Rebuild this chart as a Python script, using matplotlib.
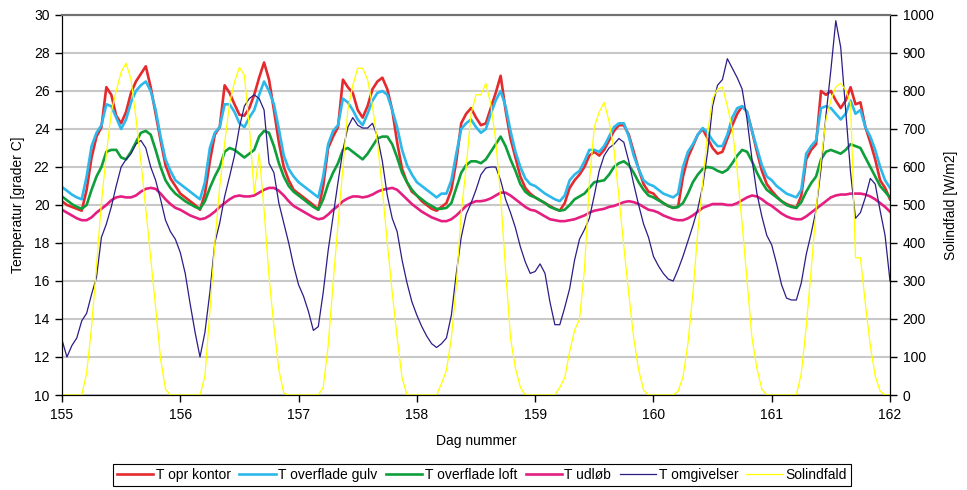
import matplotlib
matplotlib.use("Agg")
import matplotlib.pyplot as plt
import numpy as np

plt.rcParams['font.family'] = ['Liberation Sans', 'DejaVu Sans']
plt.rcParams['font.size'] = 10

# hourly values, one row per day (155 ... 161), last value = day 162 00:00
t_opr_kontor = [
    20.2, 20.0, 19.9, 19.8, 19.7, 20.8, 22.5, 23.6, 24.1, 26.2, 25.8, 24.7, 24.3, 24.9, 25.9, 26.5, 26.9, 27.3, 26.2, 24.8, 23.4, 22.1, 21.4, 21.0,
    20.6, 20.4, 20.2, 20.0, 19.75, 20.6, 22.3, 23.7, 24.1, 26.3, 25.9, 25.3, 24.75, 24.7, 25.1, 25.8, 26.7, 27.5, 26.6, 25.0, 23.3, 22.0, 21.3, 20.8,
    20.6, 20.4, 20.2, 20.0, 19.75, 21.0, 23.0, 23.6, 24.1, 26.6, 26.2, 25.9, 25.0, 24.6, 25.2, 26.1, 26.5, 26.7, 26.1, 25.0, 23.3, 21.9, 21.2, 20.7,
    20.5, 20.2, 20.0, 19.8, 19.7, 19.9, 20.1, 20.8, 22.3, 24.3, 24.8, 25.1, 24.6, 24.2, 24.3, 25.1, 25.9, 26.8, 25.0, 23.5, 22.5, 21.5, 20.9, 20.6,
    20.4, 20.25, 20.1, 19.95, 19.8, 19.7, 20.1, 20.9, 21.3, 21.6, 22.0, 22.6, 22.8, 22.6, 22.9, 23.4, 23.9, 24.2, 24.2, 23.7, 22.8, 21.9, 21.1, 20.7,
    20.6, 20.3, 20.1, 19.95, 19.85, 19.9, 21.5, 22.5, 23.1, 23.7, 24.0, 23.5, 23.0, 22.7, 22.8, 23.5, 24.2, 24.8, 25.2, 24.9, 23.9, 22.8, 21.8, 21.1,
    20.75, 20.45, 20.2, 20.05, 19.95, 19.85, 20.5, 22.4, 22.9, 23.2, 26.0, 25.8, 26.0, 25.5, 25.1, 25.5, 26.2, 25.3, 25.4, 24.1, 23.3, 22.4, 21.3, 20.9,
    20.3,
]
t_overflade_gulv = [
    20.95, 20.75, 20.55, 20.4, 20.3, 21.5, 23.1, 23.8, 24.2, 25.3, 25.2, 24.6, 24.0, 24.5, 25.4, 26.0, 26.3, 26.5, 26.0, 25.0, 23.6, 22.4, 21.8, 21.3,
    21.1, 20.9, 20.7, 20.5, 20.3, 21.2, 23.0, 23.8, 24.1, 25.3, 25.3, 24.9, 24.3, 24.1, 24.6, 25.0, 25.8, 26.5, 26.0, 25.3, 24.0, 22.6, 21.9, 21.5,
    21.2, 21.0, 20.8, 20.6, 20.4, 21.5, 23.2, 23.9, 24.2, 25.6, 25.4, 25.0, 24.5, 24.2, 24.8, 25.5, 25.9, 26.0, 25.8, 25.0, 24.1, 22.9, 22.1, 21.6,
    21.2, 21.0, 20.8, 20.6, 20.4, 20.6, 20.6, 21.3, 22.7, 24.0, 24.3, 24.5, 24.1, 23.8, 24.0, 24.8, 25.5, 26.0, 25.2, 23.9, 22.8, 22.0, 21.4, 21.1,
    21.0, 20.8, 20.6, 20.45, 20.3, 20.2, 20.5, 21.3, 21.6, 21.8, 22.3, 22.9, 22.9, 22.8, 23.1, 23.6, 24.1, 24.3, 24.3, 23.6, 22.6, 21.9, 21.3, 21.1,
    21.0, 20.8, 20.6, 20.5, 20.4, 20.6, 22.0, 22.8, 23.2, 23.7, 24.05, 23.8, 23.4, 23.1, 23.1, 23.7, 24.6, 25.1, 25.2, 24.9, 23.9, 23.0, 22.1, 21.5,
    21.3, 21.0, 20.8, 20.6, 20.5, 20.4, 20.8, 22.7, 23.1, 23.4, 25.1, 25.2, 25.1, 24.8, 24.5, 24.8, 25.5, 24.8, 25.0, 24.1, 23.6, 22.9, 22.0, 21.3,
    20.9,
]
t_overflade_loft = [
    20.45, 20.25, 20.05, 19.9, 19.8, 20.0, 20.8, 21.5, 22.0, 22.8, 22.9, 22.9, 22.5, 22.4, 22.8, 23.3, 23.8, 23.9, 23.7, 22.9, 22.0, 21.3, 20.9, 20.6,
    20.4, 20.2, 20.05, 19.9, 19.8, 20.2, 20.9, 21.5, 22.0, 22.8, 23.0, 22.9, 22.7, 22.5, 22.7, 22.9, 23.6, 23.9, 23.8, 23.1, 22.2, 21.5, 21.0, 20.7,
    20.5, 20.3, 20.1, 19.9, 19.75, 20.3, 21.1, 21.7, 22.2, 22.9, 23.0, 22.8, 22.6, 22.4, 22.7, 23.1, 23.5, 23.6, 23.6, 23.2, 22.5, 21.7, 21.2, 20.8,
    20.5, 20.3, 20.1, 19.95, 19.8, 19.8, 19.85, 20.1, 20.9, 21.7, 22.1, 22.3, 22.3, 22.2, 22.4, 22.8, 23.2, 23.6, 23.1, 22.4, 21.8, 21.1, 20.7, 20.5,
    20.4, 20.25, 20.1, 19.9, 19.8, 19.7, 19.75, 20.0, 20.3, 20.45, 20.6, 20.9, 21.2, 21.25, 21.3, 21.6, 22.0, 22.2, 22.3, 22.1, 21.7, 21.2, 20.8, 20.5,
    20.4, 20.25, 20.1, 19.95, 19.85, 19.9, 20.1, 20.6, 21.2, 21.6, 21.9, 22.0, 21.95, 21.8, 21.7, 21.85, 22.2, 22.6, 22.9, 22.8, 22.3, 21.7, 21.2, 20.8,
    20.6, 20.4, 20.2, 20.0, 19.9, 19.85, 20.15, 20.7, 21.15, 21.5, 22.4, 22.8, 22.9, 22.8, 22.7, 22.9, 23.2, 23.1, 23.0, 22.5, 22.0, 21.5, 21.0, 20.7,
    20.4,
]
t_udloeb = [
    19.75, 19.6, 19.45, 19.3, 19.2, 19.2, 19.35, 19.6, 19.8, 20.0, 20.25, 20.4, 20.45, 20.4, 20.4, 20.5, 20.7, 20.85, 20.9, 20.85, 20.6, 20.3, 20.05, 19.85,
    19.75, 19.6, 19.45, 19.35, 19.25, 19.3, 19.45, 19.65, 19.9, 20.1, 20.3, 20.45, 20.5, 20.45, 20.45, 20.5, 20.65, 20.8, 20.9, 20.9, 20.75, 20.5, 20.2, 19.95,
    19.8, 19.65, 19.5, 19.35, 19.25, 19.3, 19.5, 19.75, 19.95, 20.2, 20.35, 20.45, 20.45, 20.4, 20.45, 20.55, 20.7, 20.8, 20.85, 20.9, 20.8, 20.55, 20.3, 20.05,
    19.85, 19.65, 19.5, 19.35, 19.25, 19.15, 19.15, 19.25, 19.45, 19.7, 19.95, 20.1, 20.2, 20.2, 20.25, 20.35, 20.5, 20.65, 20.65, 20.5, 20.3, 20.1, 19.9, 19.75,
    19.7, 19.55, 19.4, 19.25, 19.2, 19.15, 19.15, 19.2, 19.25, 19.35, 19.45, 19.6, 19.7, 19.75, 19.8, 19.9, 19.95, 20.05, 20.15, 20.2, 20.15, 20.05, 19.9, 19.75,
    19.7, 19.6, 19.45, 19.35, 19.25, 19.2, 19.2, 19.3, 19.45, 19.65, 19.85, 19.95, 20.05, 20.05, 20.05, 20.0, 20.0, 20.1, 20.25, 20.4, 20.5, 20.45, 20.3, 20.1,
    19.95, 19.75, 19.55, 19.4, 19.3, 19.25, 19.25, 19.4, 19.6, 19.8, 20.0, 20.2, 20.4, 20.5, 20.55, 20.55, 20.6, 20.6, 20.6, 20.55, 20.45, 20.3, 20.1, 19.9,
    19.65,
]
t_omgivelser = [
    12.9, 12.0, 12.6, 13.0, 13.9, 14.3, 15.3, 16.2, 18.3, 19.0, 19.9, 21.0, 22.0, 22.4, 22.7, 23.2, 23.4, 23.0, 22.0, 21.3, 20.3, 19.2, 18.6, 18.2,
    17.5, 16.4, 14.8, 13.3, 12.0, 13.3, 15.4, 18.0, 19.05, 20.45, 21.5, 22.6, 24.1, 25.2, 25.6, 25.8, 25.6, 25.0, 22.2, 21.7, 20.1, 19.05, 18.0, 16.8,
    15.8, 15.2, 14.4, 13.4, 13.6, 15.4, 17.6, 19.4, 21.2, 22.9, 24.1, 24.6, 24.2, 24.05, 24.05, 24.3, 23.6, 22.3, 20.5, 19.3, 18.6, 17.1, 15.9, 14.9,
    14.2, 13.6, 13.1, 12.7, 12.5, 12.7, 13.0, 14.2, 16.4, 18.3, 19.5, 20.1, 20.8, 21.6, 21.95, 22.0, 22.0, 21.3, 20.3, 19.6, 18.8, 17.8, 17.0, 16.4,
    16.5, 16.9, 16.4, 14.9, 13.7, 13.7, 14.6, 15.6, 17.1, 18.2, 18.7, 19.3, 20.5, 21.8, 22.6, 23.0, 23.2, 23.5, 23.3, 22.3, 21.1, 20.0, 19.0, 18.3,
    17.3, 16.8, 16.4, 16.1, 16.0, 16.6, 17.3, 18.1, 18.9, 19.8, 21.0, 22.8, 25.2, 26.3, 26.6, 27.7, 27.2, 26.7, 26.1, 24.5, 22.4, 20.6, 19.4, 18.4,
    17.9, 16.9, 15.8, 15.1, 15.0, 15.0, 15.9, 17.4, 18.5, 19.75, 21.9, 24.7, 27.1, 29.7, 28.3, 25.0, 21.7, 19.3, 19.6, 20.4, 21.4, 21.1, 19.7, 18.4,
    16.0,
]
solindfald = [
    0, 0, 0, 0, 0, 58, 180, 340, 507, 634, 745, 800, 850, 873, 830, 730, 615, 490, 360, 230, 95, 15, 0, 0,
    0, 0, 0, 0, 0, 50, 220, 399, 548, 662, 768, 824, 862, 842, 706, 531, 636, 487, 311, 180, 66, 5, 0, 0,
    0, 0, 0, 0, 0, 20, 130, 294, 450, 600, 750, 815, 860, 860, 830, 760, 665, 540, 400, 270, 150, 45, 0, 0,
    0, 0, 0, 0, 0, 30, 65, 150, 290, 480, 600, 740, 790, 790, 820, 765, 670, 520, 330, 150, 70, 20, 0, 0,
    0, 0, 0, 0, 0, 20, 45, 115, 170, 200, 330, 560, 705, 745, 770, 720, 645, 520, 390, 265, 150, 66, 13, 0,
    0, 0, 0, 0, 0, 10, 48, 136, 267, 430, 560, 690, 780, 805, 810, 760, 700, 590, 450, 300, 150, 70, 15, 0,
    0, 0, 0, 0, 0, 0, 57, 180, 329, 487, 618, 724, 776, 811, 820, 803, 768, 361, 361, 240, 130, 50, 10, 0,
    0,
]

dag = 155 + np.arange(len(t_opr_kontor)) / 24.0

fig = plt.figure(figsize=(9.67, 4.9), dpi=100)
ax = fig.add_axes([62/967, 95/490, 828/967, 380/490])

ax.plot(dag, t_opr_kontor, color="#E52A2E", lw=1.9, label="T opr kontor")
ax.plot(dag, t_overflade_gulv, color="#2DB8EC", lw=1.9, label="T overflade gulv")
ax.plot(dag, t_overflade_loft, color="#0E9F3A", lw=1.9, label="T overflade loft")
ax.plot(dag, t_udloeb, color="#E51E82", lw=1.9, label="T udløb")
ax.plot(dag, t_omgivelser, color="#2B1D86", lw=0.9, label="T omgivelser")

ax.set_xlim(155, 162)
ax.set_ylim(10, 30)
ax.set_xticks(range(155, 163))
ax.set_yticks(range(10, 31, 2))
ax.grid(axis="y", color="#c8c8c8", lw=1.5)
ax.set_axisbelow(True)
ax.spines["top"].set_color("#707070")
ax.spines["top"].set_linewidth(1.5)
ax.tick_params(direction="out", length=5, width=1, labelsize=10, pad=4)
ax.set_xlabel("Dag nummer", labelpad=9)
ax.set_ylabel("Temperatur [grader C]", labelpad=6)

ax2 = ax.twinx()
ax2.plot(dag, solindfald, color="#FFFF00", lw=0.9, label="Solindfald")
ax2.set_ylim(0, 1000)
ax2.set_yticks(range(0, 1001, 100))
ax2.tick_params(direction="out", length=5, width=1, labelsize=10, pad=4)
ax2.spines["top"].set_color("#707070")
ax2.spines["top"].set_linewidth(1.5)
ax2.set_ylabel("Solindfald [W/m2]", labelpad=8)

h1, l1 = ax.get_legend_handles_labels()
h2, l2 = ax2.get_legend_handles_labels()
leg = fig.legend(h1 + h2, l1 + l2, loc="center", bbox_to_anchor=(482/967, 15/490),
                 ncol=6, frameon=True, fancybox=False, edgecolor="black", framealpha=1,
                 fontsize=10, handlelength=2.6, handletextpad=0.2, columnspacing=0.6,
                 borderpad=0.3, borderaxespad=0)
leg.get_frame().set_linewidth(0.8)

fig.savefig("out.png", dpi=100)
